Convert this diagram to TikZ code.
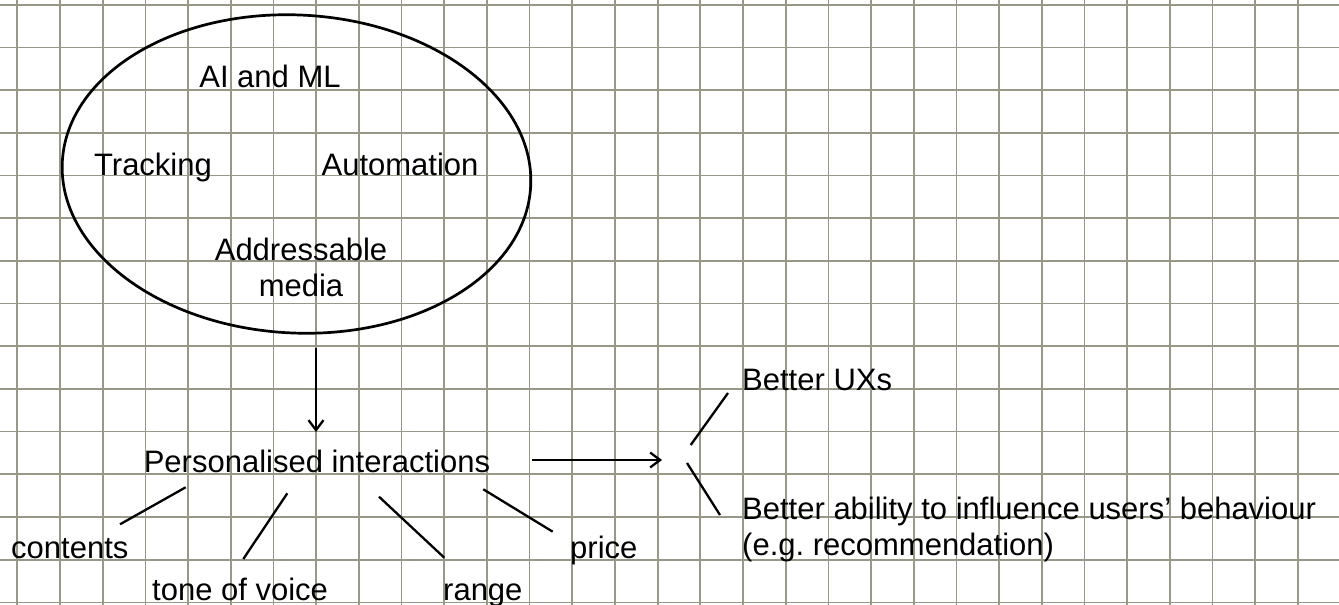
\documentclass[tikz,border=0pt]{standalone}
\usepackage{fontspec}
\setmainfont{Liberation Sans}
\usetikzlibrary{shapes.geometric,arrows.meta}
\definecolor{gridgray}{RGB}{152,151,136}
\frenchspacing
\begin{document}
\begin{tikzpicture}[x=1pt,y=-1pt,
  lbl/.style={inner sep=0pt, font=\fontsize{31}{36}\selectfont},
  gridline/.style={gridgray, line width=1.7pt},
  link/.style={line width=2.3pt},
  arr/.style={link, -{Straight Barb[length=10pt,width=15pt]}},
]
\useasboundingbox (0,0) rectangle (1339,605);

% squared paper
\foreach \k in {0,...,30}
  \draw[gridline] ({17.3+42.69*\k},0) -- ({17.3+42.69*\k},605);
\foreach \k in {0,...,14}
  \draw[gridline] (0,{4.7+42.69*\k}) -- (1339,{4.7+42.69*\k});

% technologies
\node[draw, ellipse, line width=2.7pt, minimum width=469pt, minimum height=318pt,
      inner sep=0pt, rotate=-3] (tech) at (296.5,174) {};
\node[lbl, anchor=base] (aiml)  at (270,87)  {AI and ML};
\node[lbl, anchor=base] (track) at (153,175) {Tracking};
\node[lbl, anchor=base] (auto)  at (400,175) {Automation};
\node[lbl, anchor=north, align=center] (addr) at (301,238) {Addressable\\media};

% interactions and their aspects
\node[lbl, anchor=base] (pers) at (317,472) {Personalised interactions};
\node[lbl, anchor=base west] (cont)  at (11,558)  {contents};
\node[lbl, anchor=base west] (tone)  at (152,600) {tone of voice};
\node[lbl, anchor=base west] (range) at (443,600) {range};
\node[lbl, anchor=base west] (price) at (570,558) {price};

% outcomes
\node[lbl, anchor=base west] (ux) at (742,390) {Better UXs};
\node[lbl, anchor=north west, align=left] (infl) at (742,497)
  {Better ability to influence users’ behaviour\\(e.g.\ recommendation)};

% connector end points
\coordinate (techOut)  at (316,348);
\coordinate (persIn)   at (316,432);
\coordinate (persOut)  at (532,460);
\coordinate (fork)     at (662,460);
\coordinate (contA) at (185.7,487.3); \coordinate (contB) at (120,524.3);
\coordinate (toneA) at (287.3,493.3); \coordinate (toneB) at (243.3,559);
\coordinate (rangeA) at (379,496.7);  \coordinate (rangeB) at (444.3,557.7);
\coordinate (priceA) at (483.3,489.3);\coordinate (priceB) at (552.7,531.7);
\coordinate (uxA) at (690.7,445);     \coordinate (uxB) at (728,393);
\coordinate (inflA) at (687,463);     \coordinate (inflB) at (720,515);

\draw[arr] (techOut) -- (persIn);
\draw[arr] (persOut) -- (fork);
\draw[link] (contA) -- (contB);
\draw[link] (toneA) -- (toneB);
\draw[link] (rangeA) -- (rangeB);
\draw[link] (priceA) -- (priceB);
\draw[link] (uxA) -- (uxB);
\draw[link] (inflA) -- (inflB);
\end{tikzpicture}
\end{document}
